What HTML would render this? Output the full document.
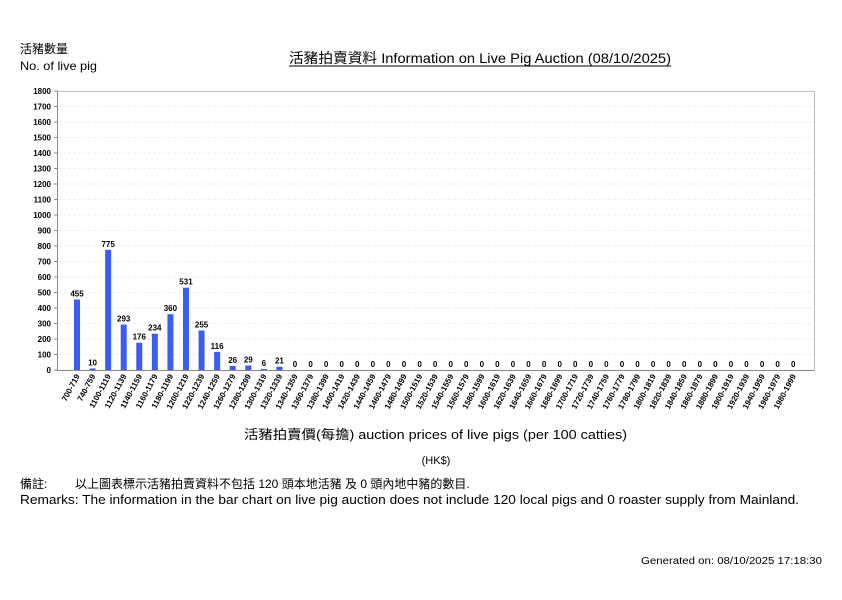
<!DOCTYPE html>
<html><head><meta charset="utf-8"><style>
body{margin:0;background:#fff;width:842px;height:595px;overflow:hidden;font-family:"Liberation Sans","Noto Sans CJK TC",sans-serif;}
</style></head><body>
<svg id="s" width="842" height="595" xmlns="http://www.w3.org/2000/svg" font-family="Liberation Sans, Noto Sans CJK TC, sans-serif">
<text x="20" y="53" font-size="12">活豬數量</text>
<text x="20" y="70" font-size="12" textLength="77" lengthAdjust="spacingAndGlyphs">No. of live pig</text>
<text x="289" y="63" font-size="14" textLength="382" lengthAdjust="spacingAndGlyphs">活豬拍賣資料 Information on Live Pig Auction (08/10/2025)</text>
<line x1="289" y1="66" x2="671" y2="66" stroke="#000" stroke-width="1"/>
<rect x="57.5" y="91.5" width="757" height="279" fill="none" stroke="#bbb"/>
<g id="g"></g>
<text x="244" y="439" font-size="13" textLength="383" lengthAdjust="spacingAndGlyphs">活豬拍賣價(每擔) auction prices of live pigs (per 100 catties)</text>
<text x="436" y="464" font-size="11" text-anchor="middle">(HK$)</text>
<text x="20" y="488" font-size="12">備註:</text>
<text x="75" y="488" font-size="12">以上圖表標示活豬拍賣資料不包括 120 頭本地活豬 及 0 頭內地中豬的數目.</text>
<text x="20" y="504" font-size="12.5" textLength="779" lengthAdjust="spacingAndGlyphs">Remarks: The information in the bar chart on live pig auction does not include 120 local pigs and 0 roaster supply from Mainland.</text>
<text x="641" y="564" font-size="10" textLength="181" lengthAdjust="spacingAndGlyphs">Generated on: 08/10/2025 17:18:30</text>
</svg>
<script>
var g=document.getElementById('g'),h='';
var y0=370,k=279/1800;
for(var v=0;v<=1800;v+=100){var y=y0-v*k;
 if(v>0)h+='<line x1="58" x2="814" y1="'+y+'" y2="'+y+'" stroke="#ddd" stroke-dasharray="3,2" stroke-width="0.6"/>';
 h+='<line x1="54" x2="58" y1="'+y+'" y2="'+y+'" stroke="#888"/>';
 h+='<text x="51" y="'+(y+3)+'" font-size="8" font-weight="bold" text-anchor="end">'+v+'</text>';}
var cats=['700-719','740-759'];for(var c=1100;c<=1980;c+=20)cats.push(c+'-'+(c+19));
var vals=[455,10,775,293,176,234,360,531,255,116,26,29,6,21];
for(var i=0;i<cats.length;i++){var cx=77+i*15.57,v=vals[i]||0,bh=v*k;
 if(v>0)h+='<rect x="'+(cx-3)+'" y="'+(y0-bh)+'" width="6" height="'+bh+'" fill="#3a5ef5"/>';
 h+='<text x="'+cx+'" y="'+(y0-bh-3)+'" font-size="8" font-weight="bold" text-anchor="middle">'+v+'</text>';
 h+='<text transform="translate('+(cx+3)+',376) rotate(-62)" font-size="8" font-weight="bold" text-anchor="end">'+cats[i]+'</text>';}
h+='<line x1="58" x2="814" y1="370.5" y2="370.5" stroke="#888"/><line x1="57.5" x2="57.5" y1="91" y2="371" stroke="#888"/>';
g.innerHTML=h;
</script>
</body></html>
